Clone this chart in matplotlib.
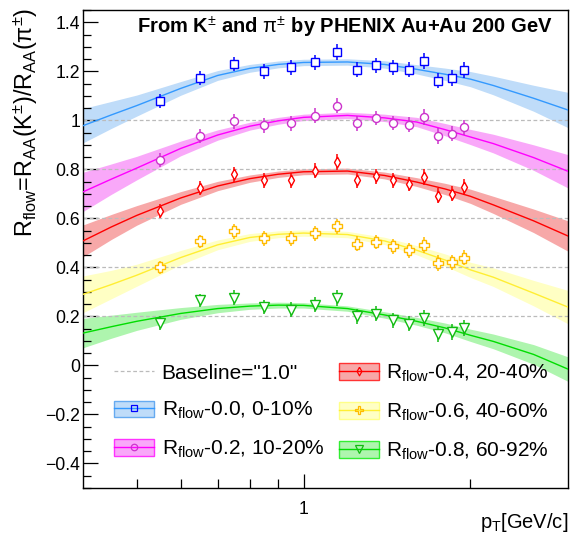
import matplotlib
matplotlib.use('Agg')
import matplotlib.pyplot as plt
from matplotlib.patches import Patch
from matplotlib.lines import Line2D
from matplotlib.ticker import FixedLocator, NullFormatter, FixedFormatter

plt.rcParams['font.family'] = ['Liberation Sans', 'DejaVu Sans']
plt.rcParams['mathtext.fontset'] = 'custom'
plt.rcParams['mathtext.rm'] = 'Liberation Sans'
plt.rcParams['mathtext.it'] = 'Liberation Sans:italic'
plt.rcParams['mathtext.bf'] = 'Liberation Sans:bold'
plt.rcParams['axes.unicode_minus'] = True

# ---------------- data ----------------
pt = [0.55, 0.65, 0.75, 0.85, 0.95, 1.05, 1.15, 1.25, 1.35, 1.45, 1.55, 1.65, 1.75, 1.85, 1.95]
stat_err = [0.028, 0.028, 0.030, 0.030, 0.030, 0.030, 0.032, 0.030, 0.030, 0.030, 0.030, 0.032, 0.032, 0.032, 0.032]

r_0_10 = [1.078, 1.173, 1.230, 1.200, 1.216, 1.237, 1.279, 1.207, 1.224, 1.216, 1.207, 1.241, 1.162, 1.173, 1.204]
r_10_20 = [0.837, 0.936, 0.996, 0.980, 0.988, 1.019, 1.060, 0.988, 1.010, 0.989, 0.982, 1.014, 0.935, 0.946, 0.971]
r_20_40 = [0.631, 0.723, 0.779, 0.755, 0.755, 0.795, 0.830, 0.755, 0.771, 0.755, 0.740, 0.769, 0.693, 0.701, 0.727]
r_40_60 = [0.400, 0.506, 0.547, 0.518, 0.518, 0.539, 0.567, 0.496, 0.504, 0.486, 0.469, 0.490, 0.418, 0.420, 0.440]
r_60_92 = [0.173, 0.265, 0.276, 0.238, 0.227, 0.248, 0.275, 0.200, 0.211, 0.184, 0.170, 0.193, 0.129, 0.136, 0.153]

fit_pt = [0.4, 0.45, 0.5, 0.6, 0.7, 0.8, 0.9, 1.0, 1.2, 1.4, 1.6, 1.8, 2.0, 2.2, 2.6, 3.0]
fit_0_10 = [0.978, 1.022, 1.060, 1.130, 1.183, 1.212, 1.228, 1.236, 1.238, 1.228, 1.208, 1.188, 1.168, 1.142, 1.090, 1.042]
fit_10_20 = [0.708, 0.760, 0.805, 0.885, 0.940, 0.976, 0.998, 1.012, 1.020, 1.010, 0.993, 0.962, 0.932, 0.905, 0.848, 0.792]
fit_20_40 = [0.508, 0.565, 0.612, 0.683, 0.732, 0.762, 0.780, 0.790, 0.793, 0.775, 0.748, 0.720, 0.690, 0.655, 0.590, 0.528]
fit_40_60 = [0.290, 0.330, 0.368, 0.440, 0.492, 0.522, 0.535, 0.540, 0.534, 0.508, 0.470, 0.430, 0.390, 0.360, 0.295, 0.238]
fit_60_92 = [0.132, 0.158, 0.180, 0.212, 0.232, 0.242, 0.246, 0.245, 0.232, 0.206, 0.180, 0.153, 0.123, 0.098, 0.045, -0.015]

band_0_10 = [0.070, 0.055, 0.043, 0.028, 0.020, 0.016, 0.014, 0.013, 0.013, 0.015, 0.019, 0.025, 0.031, 0.038, 0.053, 0.072]
band_10_20 = [0.080, 0.062, 0.048, 0.030, 0.021, 0.016, 0.014, 0.013, 0.013, 0.015, 0.019, 0.025, 0.031, 0.038, 0.052, 0.068]
band_20_40 = [0.065, 0.051, 0.040, 0.026, 0.019, 0.015, 0.013, 0.012, 0.012, 0.014, 0.018, 0.023, 0.029, 0.035, 0.048, 0.062]
band_40_60 = [0.075, 0.058, 0.045, 0.029, 0.020, 0.016, 0.014, 0.013, 0.013, 0.015, 0.019, 0.025, 0.031, 0.038, 0.052, 0.068]
band_60_92 = [0.060, 0.047, 0.037, 0.024, 0.017, 0.013, 0.012, 0.011, 0.011, 0.013, 0.016, 0.020, 0.025, 0.030, 0.040, 0.050]

offsets = [0.0, 0.2, 0.4, 0.6, 0.8]
centralities = ['0-10%', '10-20%', '20-40%', '40-60%', '60-92%']

y_ticks = [-0.4, -0.2, 0.0, 0.2, 0.4, 0.6, 0.8, 1.0, 1.2, 1.4]
y_ticklabels = ['\u22120.4', '\u22120.2', '0', '0.2', '0.4', '0.6', '0.8', '1', '1.2', '1.4']
x_major = [1.0]
x_minor = [0.5, 0.6, 0.7, 0.8, 0.9, 2.0]

# ---------------- styles ----------------
thin_diamond = [(0, 1), (0.55, 0), (0, -1), (-0.55, 0), (0, 1)]
series = [r_0_10, r_10_20, r_20_40, r_40_60, r_60_92]
fits = [fit_0_10, fit_10_20, fit_20_40, fit_40_60, fit_60_92]
bands = [band_0_10, band_10_20, band_20_40, band_40_60, band_60_92]
markers = ['s', 'o', thin_diamond, 'P', 'v']
msizes = [5.4, 5.8, 7.8, 7.6, 7.0]
mcolors = ['#0000ff', '#cc33cc', '#ff0000', '#ffbb00', '#11bb11']
lcolors = ['#3399ff', '#ff00ff', '#ff0000', '#ffee33', '#00dd00']
fcolors = ['#bfdcf9', '#f9a8f9', '#f7a8a8', '#ffffc4', '#aef5ae']
ecolors = ['#66aaf0', '#ff33ff', '#ff3333', '#ffff88', '#33ee33']

fig = plt.figure(figsize=(5.78, 5.39), dpi=100)
ax = fig.add_axes([83/578, 1-488/539, (568-83)/578, (488-10)/539])

for i in range(5):
    lo = [c - b for c, b in zip(fits[i], bands[i])]
    hi = [c + b for c, b in zip(fits[i], bands[i])]
    ax.fill_between(fit_pt, lo, hi, color=fcolors[i], lw=0, zorder=1)

for off in offsets:
    ax.axhline(1.0 - off, color='#bbbbbb', ls=(0, (3, 2)), lw=0.9, zorder=2)

for i in range(5):
    ax.plot(fit_pt, fits[i], color=lcolors[i], lw=1.0, zorder=3)
    ax.errorbar(pt, series[i], yerr=stat_err, fmt='none', ecolor=mcolors[i],
                elinewidth=1.1, capsize=0, zorder=4)
    ax.plot(pt, series[i], ls='none', marker=markers[i], mfc='white', mec=mcolors[i],
            ms=msizes[i], mew=1.0, zorder=5)

ax.set_xscale('log')
ax.set_xlim(0.4, 3.0)
ax.set_ylim(-0.5, 1.45)
ax.xaxis.set_major_locator(FixedLocator(x_major))
ax.xaxis.set_major_formatter(FixedFormatter(['1']))
ax.xaxis.set_minor_locator(FixedLocator(x_minor))
ax.xaxis.set_minor_formatter(NullFormatter())
ax.yaxis.set_major_locator(FixedLocator(y_ticks))
ax.yaxis.set_major_formatter(FixedFormatter(y_ticklabels))
ax.yaxis.set_minor_locator(FixedLocator([v / 100 for v in range(-50, 146, 5)]))
ax.tick_params(axis='both', which='both', direction='in', top=False, right=False, width=0.9, color='black')
ax.tick_params(axis='y', which='major', length=10.8, pad=2, labelsize=12.7)
ax.tick_params(axis='y', which='minor', length=5.4)
ax.tick_params(axis='x', which='major', length=10, pad=9, labelsize=12.7)
ax.tick_params(axis='x', which='minor', length=6.5)
for s in ax.spines.values():
    s.set_linewidth(1.0)

fig.text(553/578, 1-27/539, r'From K$^{\pm}$ and $\mathrm{\pi}^{\pm}$ by PHENIX Au+Au 200 GeV',
         ha='right', va='center', fontsize=14.5, fontweight='bold')
fig.text(26/578, 1-8/539,
         r'R$_{\mathrm{flow}}$=R$_{\mathrm{AA}}$(K$^{\pm}$)/R$_{\mathrm{AA}}$($\mathrm{\pi}^{\pm}$)',
         rotation=90, ha='center', va='top', fontsize=16.8)
fig.text(568/578, 1-528/539, r'p$_{\mathrm{T}}$[GeV/c]', ha='right', va='baseline', fontsize=14.5)

# ---------------- legend ----------------
handles = []
labels = []
handles.append(Line2D([], [], color='#bbbbbb', ls=(0, (3, 2)), lw=0.9))
labels.append('Baseline="1.0"')
for i in range(5):
    patch = Patch(facecolor=fcolors[i], edgecolor=ecolors[i], lw=1.0)
    line = Line2D([], [], color=lcolors[i], lw=1.0, marker=markers[i], ms=msizes[i] * 0.8,
                  mfc='none', mec=mcolors[i], mew=0.9)
    handles.append((patch, line))
    labels.append(r'R$_{\mathrm{flow}}$-%.1f, %s' % (offsets[i], centralities[i]))

common = dict(frameon=False, fontsize=15, handlelength=1.9, handleheight=0.86,
              handletextpad=0.38, labelspacing=0.84, borderpad=0, borderaxespad=0,
              loc='upper left', bbox_transform=fig.transFigure)
leg1 = ax.legend(handles[:3], labels[:3], bbox_to_anchor=(114/578, 1-363/539), **common)
ax.add_artist(leg1)
leg2 = ax.legend([handles[3], handles[4], handles[5]], labels[3:], bbox_to_anchor=(339/578, 1-363/539), **common)

fig.savefig('out.png', dpi=100)
